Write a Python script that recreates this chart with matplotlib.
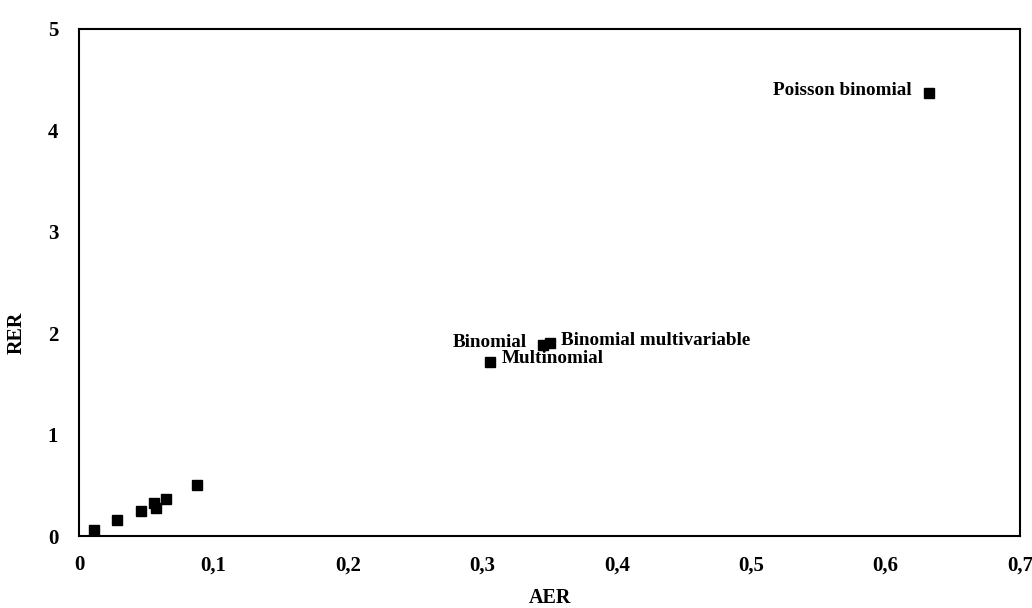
import matplotlib
matplotlib.use("Agg")
import matplotlib.pyplot as plt

aer = [0.011, 0.028, 0.046, 0.056, 0.057, 0.065, 0.0875, 0.306, 0.3455, 0.350, 0.632]
rer = [0.06, 0.16, 0.25, 0.33, 0.28, 0.36, 0.50, 1.72, 1.88, 1.90, 4.37]
labels = {7: "Multinomial", 8: "Binomial", 9: "Binomial multivariable", 10: "Poisson binomial"}
label_side = {7: "right", 8: "left", 9: "right", 10: "left"}

xticks = [0, 0.1, 0.2, 0.3, 0.4, 0.5, 0.6, 0.7]
xticklabels = ["0", "0,1", "0,2", "0,3", "0,4", "0,5", "0,6", "0,7"]
yticks = [0, 1, 2, 3, 4, 5]

plt.rcParams['font.family'] = ['Liberation Serif', 'DejaVu Serif']

fig = plt.figure(figsize=(10.32, 6.08), dpi=100)
ax = fig.add_axes([79/1032, 1 - 536/608, (1020-79)/1032, (536-29)/608])
ax.plot(aer, rer, linestyle='none', marker='s', markersize=7, color='black')

for i, txt in labels.items():
    if label_side[i] == "left":
        ax.annotate(txt, (aer[i], rer[i]), xytext=(-12, 2), textcoords='offset points',
                    ha='right', va='center', fontsize=13.8, fontweight='bold')
    else:
        ax.annotate(txt, (aer[i], rer[i]), xytext=(8, 2), textcoords='offset points',
                    ha='left', va='center', fontsize=13.8, fontweight='bold')

ax.set_xlim(0, 0.7)
ax.set_ylim(0, 5)
ax.set_xticks(xticks)
ax.set_xticklabels(xticklabels)
ax.set_yticks(yticks)
ax.tick_params(axis='x', length=0, labelsize=15, pad=14)
ax.tick_params(axis='y', length=0, labelsize=15, pad=15)
for lab in ax.get_xticklabels() + ax.get_yticklabels():
    lab.set_fontweight('bold')
for s in ax.spines.values():
    s.set_linewidth(1.5)
ax.set_xlabel("AER", fontsize=14.5, fontweight='bold')
ax.set_ylabel("RER", fontsize=14.5, fontweight='bold')
ax.xaxis.set_label_coords(0.5, -(598 - 536) / 507, transform=ax.transAxes)
ax.xaxis.label.set_va('center')
ax.yaxis.set_label_coords(-(79 - 17) / 941, (536 - 333) / 507, transform=ax.transAxes)
ax.yaxis.label.set_va('center')

fig.savefig("out.png", dpi=100)
